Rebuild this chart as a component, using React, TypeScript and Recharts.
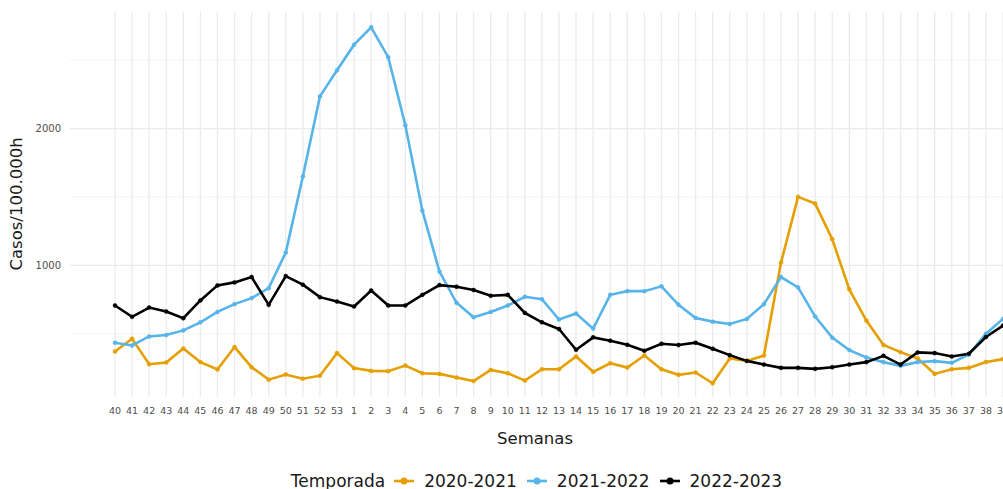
import { LineChart, Line, XAxis, YAxis, CartesianGrid } from "recharts";

// Epidemiological weeks, season order (40..53, then 1..39)
const weeks = [
  "40", "41", "42", "43", "44", "45", "46", "47", "48", "49", "50", "51", "52", "53",
  "1", "2", "3", "4", "5", "6", "7", "8", "9", "10", "11", "12", "13", "14", "15", "16", "17", "18", "19",
  "20", "21", "22", "23", "24", "25", "26", "27", "28", "29", "30", "31", "32", "33", "34", "35", "36", "37", "38", "39",
];

const season2020 = [
  370, 463, 277, 289, 392, 292, 238, 402, 255, 164, 201, 171, 193, 358,
  248, 228, 226, 267, 211, 206, 179, 154, 235, 211, 157, 240, 240, 333, 221, 284, 252, 340, 240,
  199, 216, 137, 319, 301, 340, 1020, 1500, 1451, 1191, 824, 596, 417, 365, 319, 206, 240, 250, 292, 314,
];

const season2021 = [
  434, 414, 480, 490, 524, 583, 659, 716, 760, 833, 1093, 1649, 2235, 2426,
  2613, 2740, 2522, 2024, 1399, 954, 726, 620, 659, 706, 770, 752, 603, 647, 537, 784, 811, 811, 846,
  711, 615, 588, 571, 608, 716, 914, 838, 625, 471, 380, 326, 292, 265, 292, 299, 287, 348, 500, 608,
];

const season2022 = [
  706, 623, 691, 662, 613, 743, 853, 875, 914, 711, 921, 858, 767, 735,
  699, 816, 706, 706, 784, 855, 843, 819, 777, 784, 652, 583, 534, 382, 473, 449, 419, 375, 426,
  417, 434, 390, 343, 301, 274, 250, 250, 243, 255, 274, 292, 338, 274, 363, 358, 333, 353, 476, 559,
];

const seasons = [
  { key: "s2020", name: "2020-2021", color: "#E69F00", values: season2020 },
  { key: "s2021", name: "2021-2022", color: "#56B4E9", values: season2021 },
  { key: "s2022", name: "2022-2023", color: "#000000", values: season2022 },
];

const yMajor = [1000, 2000];
const yMinor = [500, 1500, 2500];

const data = weeks.map((w, i) => {
  const row: Record<string, string | number> = { week: w };
  seasons.forEach((s) => {
    row[s.key] = s.values[i];
  });
  return row;
});

const FONT = "'DejaVu Sans', Verdana, sans-serif";

export default function App() {
  return (
    <div
      style={{
        position: "absolute",
        left: 0,
        top: 0,
        width: 1003,
        height: 489,
        overflow: "hidden",
        background: "#fff",
        fontFamily: FONT,
      }}
    >
      <LineChart
        width={1020}
        height={489}
        data={data}
        margin={{ top: 12, right: 7, bottom: 0, left: 0 }}
      >
        <CartesianGrid
          stroke="#f3f3f3"
          strokeWidth={1}
          vertical={false}
          horizontalValues={yMinor}
          syncWithTicks
        />
        <CartesianGrid
          stroke="#ebebeb"
          strokeWidth={1.3}
          horizontalValues={yMajor}
          verticalValues={weeks}
          syncWithTicks
        />
        <XAxis
          dataKey="week"
          interval={0}
          height={92}
          tickLine={false}
          axisLine={false}
          tickMargin={4}
          padding={{ left: 45, right: 10 }}
          tick={{ fontSize: 9.5, fill: "#4d4d4d", fontFamily: FONT }}
          label={{
            content: () => (
              <text
                x={535}
                y={444}
                textAnchor="middle"
                fontSize={16.5}
                fill="#1a1a1a"
                fontFamily={FONT}
              >
                Semanas
              </text>
            ),
          }}
        />
        <YAxis
          width={70}
          domain={[37, 2852]}
          ticks={yMajor}
          allowDataOverflow
          tickLine={false}
          axisLine={false}
          tickMargin={3}
          tick={{ fontSize: 10, fill: "#4d4d4d", fontFamily: FONT }}
          label={{
            content: () => (
              <text
                transform="rotate(-90)"
                x={-204}
                y={22}
                textAnchor="middle"
                fontSize={16.5}
                fill="#1a1a1a"
                fontFamily={FONT}
              >
                Casos/100.000h
              </text>
            ),
          }}
        />
        {seasons.map((s) => (
          <Line
            key={s.key}
            type="linear"
            dataKey={s.key}
            name={s.name}
            stroke={s.color}
            strokeWidth={2.6}
            dot={{ r: 2, fill: s.color, stroke: s.color, strokeWidth: 0.5 }}
            activeDot={false}
            isAnimationActive={false}
          />
        ))}
      </LineChart>

      {/* legend below the plot, ggplot style */}
      <div
        style={{
          position: "absolute",
          top: 470,
          left: 0,
          width: 1073,
          display: "flex",
          justifyContent: "center",
          alignItems: "center",
          gap: 10,
          fontSize: 17,
          lineHeight: "22px",
          color: "#1a1a1a",
          whiteSpace: "nowrap",
        }}
      >
        <span style={{ marginRight: -1 }}>Temporada</span>
        {seasons.map((s) => (
          <span key={s.key} style={{ display: "flex", alignItems: "center" }}>
            <svg width={20} height={12} style={{ marginRight: 10 }}>
              <line x1={0} y1={6} x2={20} y2={6} stroke={s.color} strokeWidth={2.6} />
              <circle cx={10} cy={6} r={3.5} fill={s.color} />
            </svg>
            {s.name}
          </span>
        ))}
      </div>
    </div>
  );
}
